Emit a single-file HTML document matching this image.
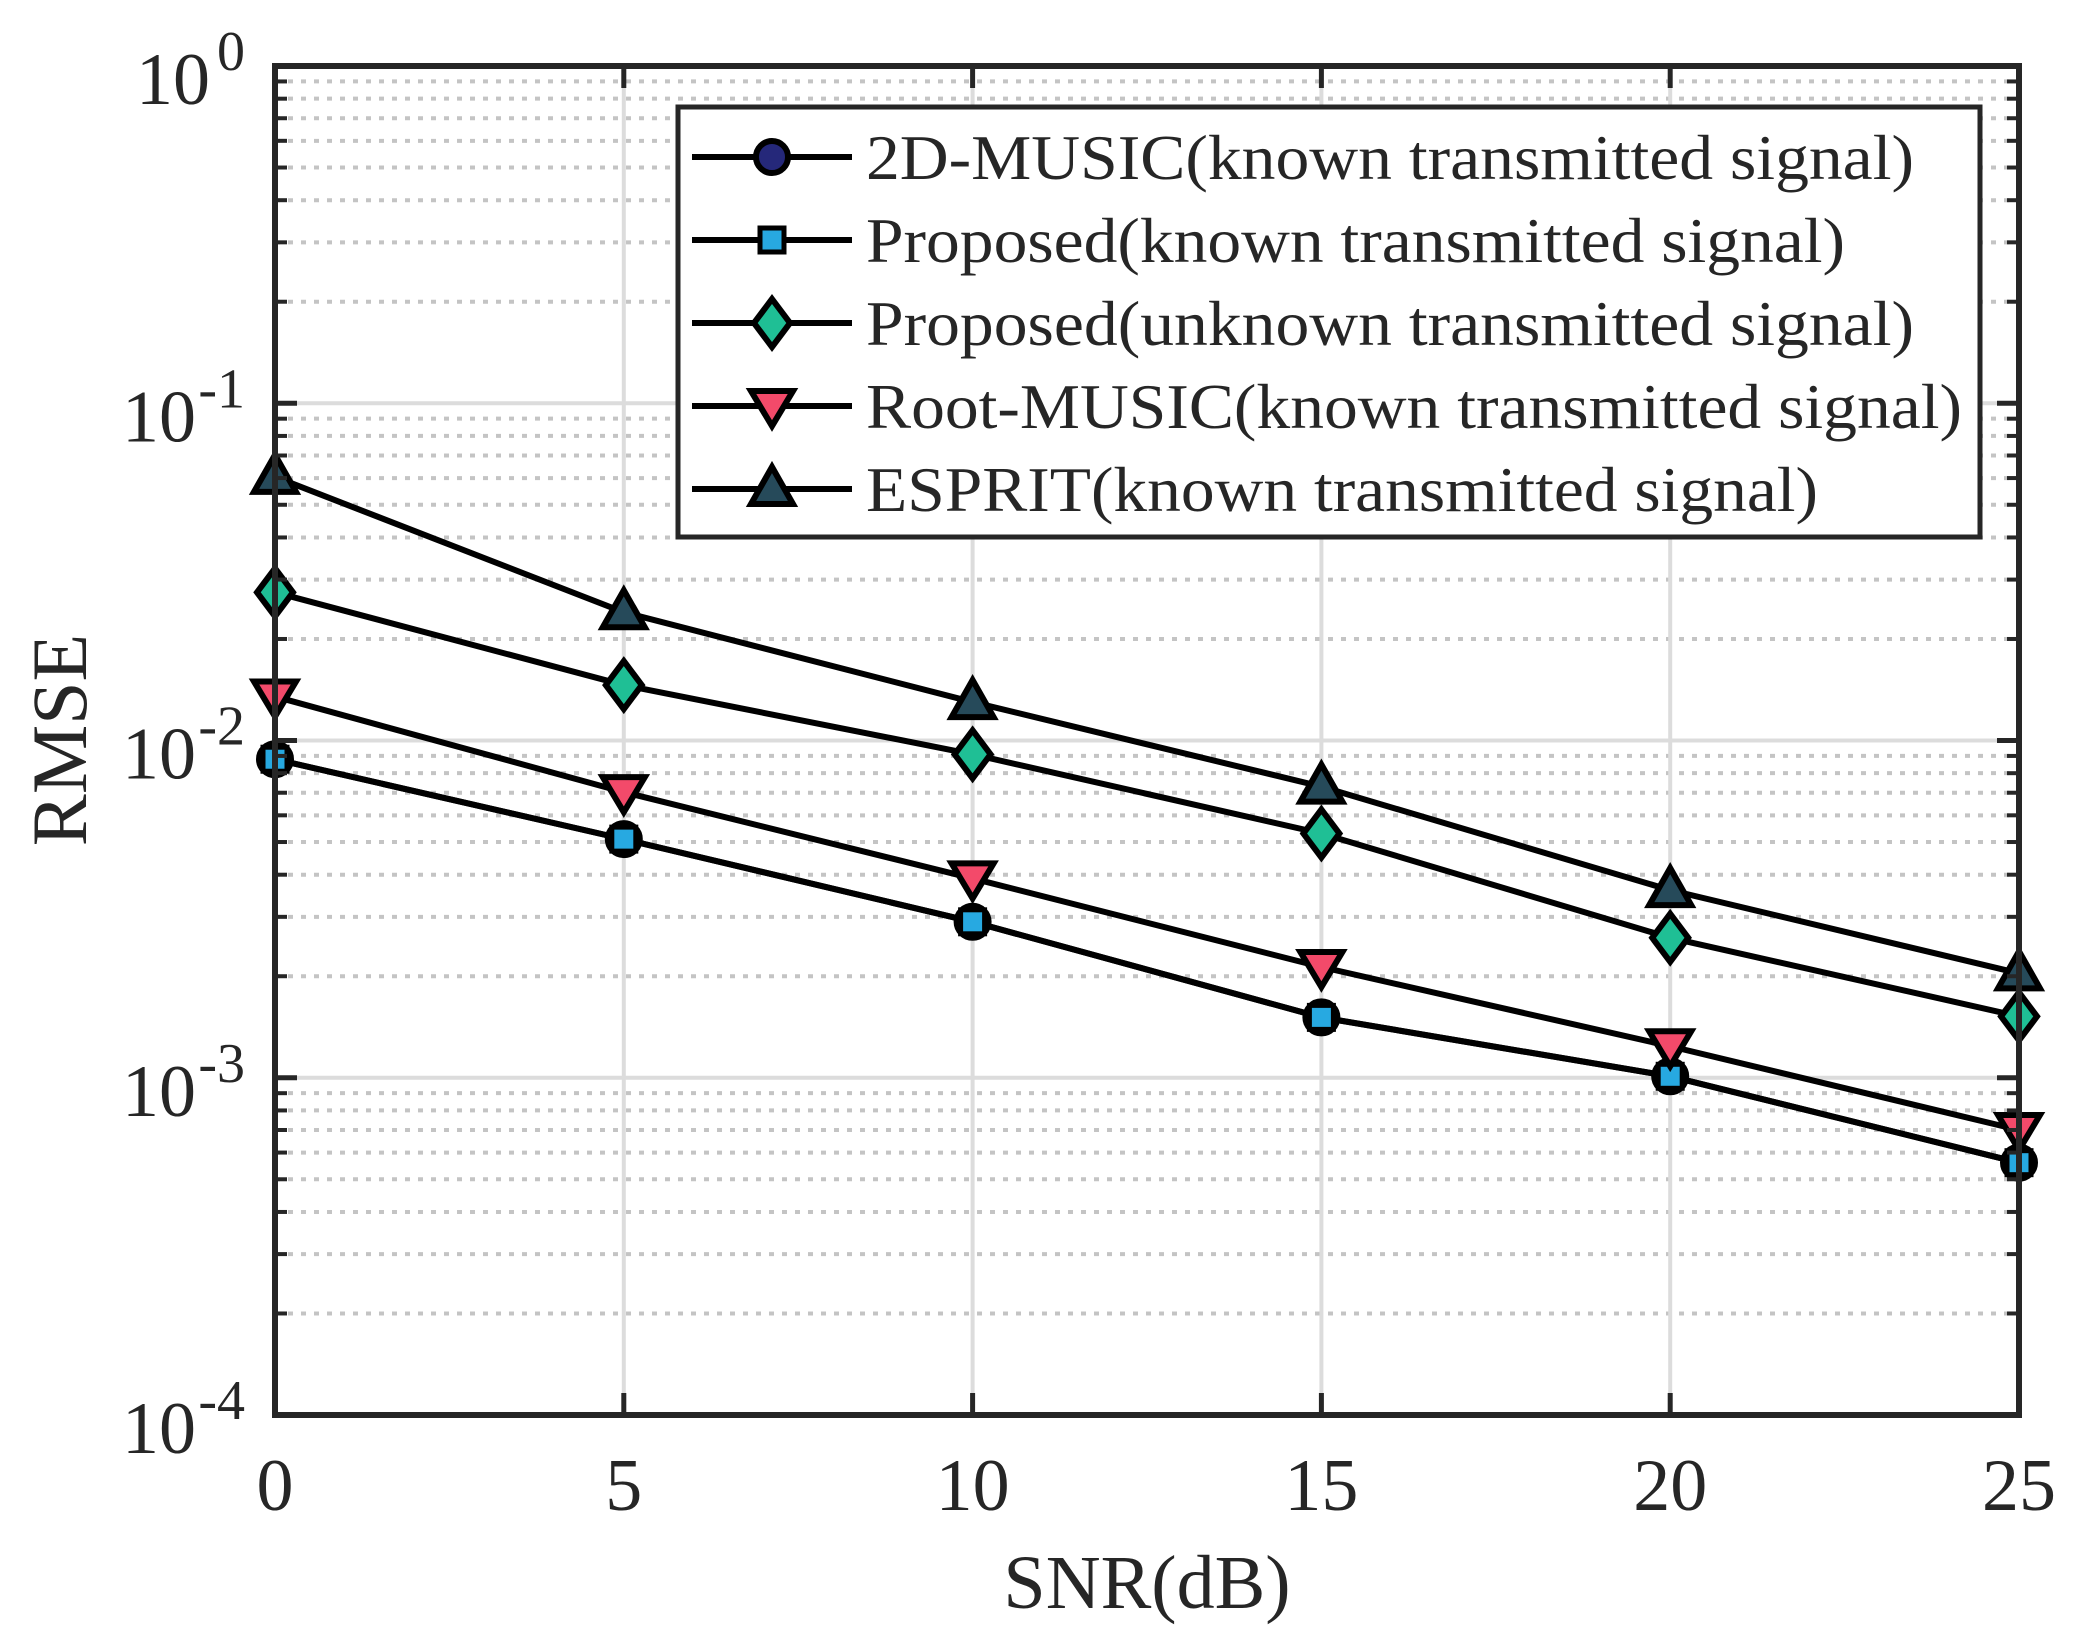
<!DOCTYPE html>
<html><head><meta charset="utf-8"><style>
html,body{margin:0;padding:0;background:#fff;}
svg{display:block;}
text{font-family:"Liberation Serif",serif;fill:#262626;}
</style></head><body>
<svg id="chart" width="2077" height="1626" viewBox="0 0 2077 1626" xmlns="http://www.w3.org/2000/svg">
<rect width="2077" height="1626" fill="#fff"/>
<g id="grid"></g>
<g id="series"></g>
<g id="axes"></g>
<g id="legend"></g>
<text x="1147" y="1608" font-size="76" text-anchor="middle">SNR(dB)</text>
<text transform="translate(86,740) rotate(-90)" font-size="78" text-anchor="middle">RMSE</text>
</svg>
<script>
const categories = [0, 5, 10, 15, 20, 25];
const xTicks = [0, 5, 10, 15, 20, 25];
const yTickExps = [0, -1, -2, -3, -4];
const seriesNames = ["2D-MUSIC(known transmitted signal)","Proposed(known transmitted signal)","Proposed(unknown transmitted signal)","Root-MUSIC(known transmitted signal)","ESPRIT(known transmitted signal)"];
const music2d = [0.0088, 0.0051, 0.0029, 0.00151, 0.00101, 0.00056];
const proposedKnown = [0.0088, 0.0051, 0.0029, 0.00151, 0.00101, 0.00056];
const proposedUnknown = [0.0275, 0.0146, 0.0091, 0.0053, 0.0026, 0.00152];
const rootMusic = [0.0135, 0.00703, 0.0039, 0.00213, 0.00124, 0.0007];
const esprit = [0.0605, 0.024, 0.013, 0.0073, 0.0036, 0.00204];

const NS="http://www.w3.org/2000/svg";
const X0=275,X1=2019,Y0=66,Y1=1415;
const xS=v=>X0+(v-0)/(25-0)*(X1-X0);
const yS=v=>Y0+(0-Math.log10(v))/4*(Y1-Y0);
function mk(tag,attrs,parent){const e=document.createElementNS(NS,tag);for(const k in attrs)e.setAttribute(k,attrs[k]);parent.appendChild(e);return e;}
const grid=document.getElementById('grid'),axes=document.getElementById('axes'),ser=document.getElementById('series'),leg=document.getElementById('legend');

for(let e=-4;e<0;e++){for(let m=2;m<=9;m++){const y=yS(m*Math.pow(10,e));
 const l=mk('line',{x1:X0,x2:X1,y1:y,y2:y,stroke:'#c4c4c4','stroke-width':4,'stroke-dasharray':'5 8'},grid);
 
 
 const t1=mk('line',{x1:X0,x2:X0+12,y1:y,y2:y,stroke:'#262626','stroke-width':4},axes);
 
 
 const t2=mk('line',{x1:X1,x2:X1-12,y1:y,y2:y,stroke:'#262626','stroke-width':4},axes);
 
 
}}
yTickExps.forEach(e=>{const y=yS(Math.pow(10,e));
 const l=mk('line',{x1:X0,x2:X1,y1:y,y2:y,stroke:'#dcdcdc','stroke-width':4},grid);
 
 
 const t=mk('line',{x1:X0,x2:X0+22,y1:y,y2:y,stroke:'#262626','stroke-width':5},axes);
 
 
 const t2=mk('line',{x1:X1,x2:X1-22,y1:y,y2:y,stroke:'#262626','stroke-width':5},axes);
 
 
 const sup=String(e);
 const base=mk('text',{x:e===0?210:196,y:y+38,'font-size':74,'text-anchor':'end'},axes);
 base.textContent='10';
 
 
 const s=mk('text',{x:245,y:y+4,'font-size':56,'text-anchor':'end'},axes);
 s.textContent=sup;
 
 
});
xTicks.forEach(v=>{const x=xS(v);
 const l=mk('line',{x1:x,x2:x,y1:Y0,y2:Y1,stroke:'#dcdcdc','stroke-width':4},grid);
 
 
 const t=mk('line',{x1:x,x2:x,y1:Y1,y2:Y1-22,stroke:'#262626','stroke-width':5},axes);
 
 
 const t2=mk('line',{x1:x,x2:x,y1:Y0,y2:Y0+22,stroke:'#262626','stroke-width':5},axes);
 
 
 const lab=mk('text',{x:x,y:1510,'font-size':74,'text-anchor':'middle'},axes);
 lab.textContent=String(v);
 
 
});
const frame=mk('rect',{x:X0,y:Y0,width:X1-X0,height:Y1-Y0,fill:'none',stroke:'#262626','stroke-width':6},axes);



function marker(type,x,y,fill,parent){let e;
 if(type==='circle')e=mk('circle',{cx:x,cy:y,r:16,fill:fill,stroke:'#000','stroke-width':6},parent);
 else if(type==='square')e=mk('rect',{x:x-12,y:y-12,width:24,height:24,fill:fill,stroke:'#000','stroke-width':5},parent);
 else if(type==='diamond')e=mk('polygon',{points:`${x},${y-24} ${x+18},${y} ${x},${y+24} ${x-18},${y}`,fill:fill,stroke:'#000','stroke-width':6},parent);
 else if(type==='down')e=mk('polygon',{points:`${x-21},${y-15} ${x+21},${y-15} ${x},${y+20}`,fill:fill,stroke:'#000','stroke-width':6},parent);
 else e=mk('polygon',{points:`${x-21},${y+15} ${x+21},${y+15} ${x},${y-22}`,fill:fill,stroke:'#000','stroke-width':6},parent);
 return e;}
const defs=[[music2d,'circle','#25287a'],[proposedKnown,'square','#27a9e1'],[proposedUnknown,'diamond','#1fbf95'],[rootMusic,'down','#f34a6a'],[esprit,'up','#264a5a']];
const dn=['music2d','proposed-known','proposed-unknown','root-music','esprit'];
defs.forEach((d,i)=>{const g=mk('g',{},ser);
 
 
 const pts=d[0].map((v,j)=>xS(categories[j])+','+yS(v)).join(' ');
 const pl=mk('polyline',{points:pts,fill:'none',stroke:'#000','stroke-width':6},g);
 
 
 d[0].forEach((v,j)=>{const m=marker(d[1],xS(categories[j]),yS(v),d[2],g);
  
  });
});
const lb=mk('rect',{x:678,y:107,width:1302,height:430,fill:'#fff',stroke:'#262626','stroke-width':5},leg);


const ends=[1914,1845,1914,1962,1818];
defs.forEach((d,i)=>{const y=157+i*83;
 const g=mk('g',{},leg);
 
 
 mk('line',{x1:692,x2:852,y1:y,y2:y,stroke:'#000','stroke-width':6},g);
 marker(d[1],772,y,d[2],g);
 const t=mk('text',{x:866,y:y+22,'font-size':64,fill:'#000',textLength:ends[i]-866,lengthAdjust:'spacingAndGlyphs'},g);
 t.textContent=seriesNames[i];
});
</script>
</body></html>
